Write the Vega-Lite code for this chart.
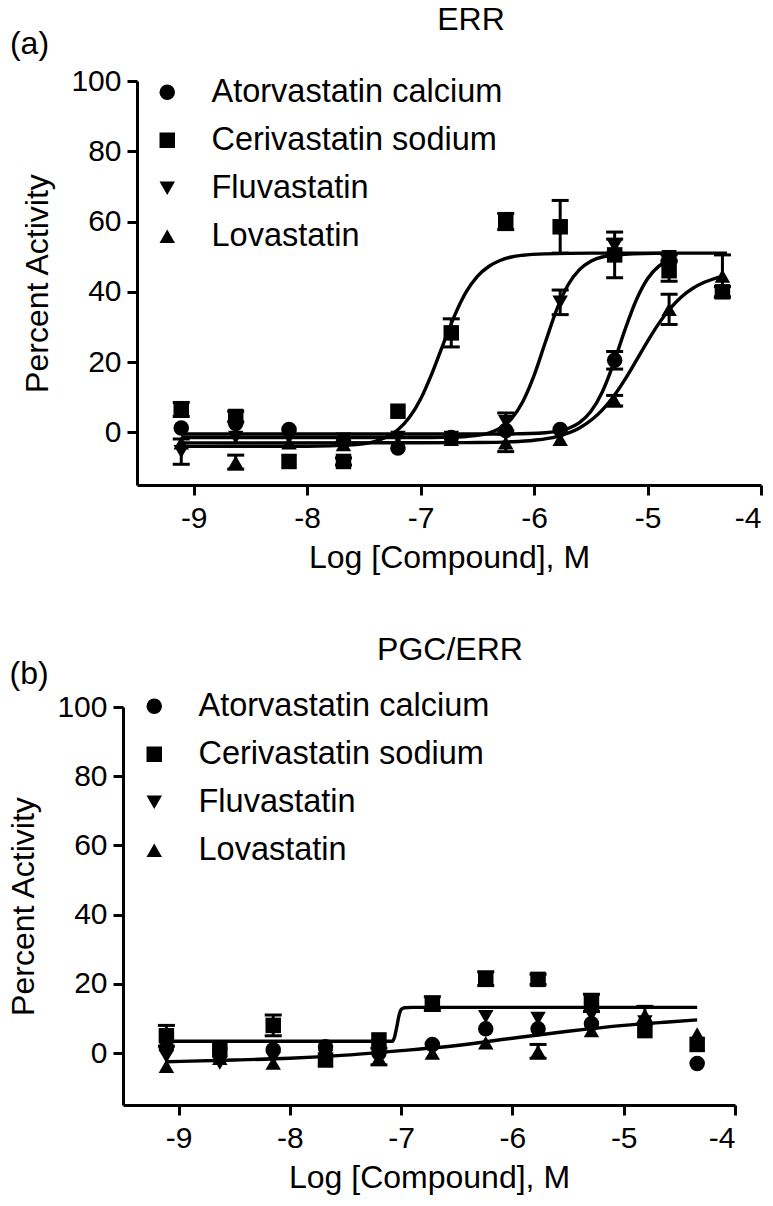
{
  "$schema": "https://vega.github.io/schema/vega-lite/v6.json",
  "padding": {"left": 7, "top": 4, "right": 5, "bottom": 5},
  "background": "white",
  "config": {
    "font": "Liberation Sans",
    "view": {"stroke": null},
    "axis": {
      "grid": false,
      "domainColor": "black",
      "domainWidth": 3,
      "tickColor": "black",
      "tickWidth": 3,
      "tickSize": 10,
      "labelFont": "Liberation Sans",
      "labelFontSize": 30,
      "labelColor": "black",
      "titleFont": "Liberation Sans",
      "titleFontSize": 32,
      "titleFontWeight": "normal",
      "titleColor": "black"
    },
    "axisX": {"labelPadding": 8, "titlePadding": 9},
    "axisY": {"labelPadding": 6, "titlePadding": 16},
    "title": {"font": "Liberation Sans", "fontSize": 32, "fontWeight": "normal", "color": "black", "anchor": "middle", "offset": -9},
    "legend": {
      "orient": "none",
      "title": null,
      "labelFont": "Liberation Sans",
      "labelFontSize": 32.5,
      "labelColor": "black",
      "labelLimit": 0,
      "symbolSize": 240,
      "symbolFillColor": "black",
      "symbolStrokeColor": "black",
      "symbolStrokeWidth": 0,
      "rowPadding": 15,
      "labelOffset": 28,
      "padding": 0
    }
  },
  "datasets": {
    "ptsA": [
      {"compound": "Atorvastatin calcium", "x": -9.11, "y": 1.2, "err": 0},
      {"compound": "Atorvastatin calcium", "x": -8.63, "y": 2.5, "err": 0},
      {"compound": "Atorvastatin calcium", "x": -8.16, "y": 0.8, "err": 0},
      {"compound": "Atorvastatin calcium", "x": -7.68, "y": -2.5, "err": 0},
      {"compound": "Atorvastatin calcium", "x": -7.2, "y": -4.5, "err": 0},
      {"compound": "Atorvastatin calcium", "x": -6.73, "y": -1.5, "err": 0},
      {"compound": "Atorvastatin calcium", "x": -6.25, "y": 0.5, "err": 0},
      {"compound": "Atorvastatin calcium", "x": -5.77, "y": 0.8, "err": 0},
      {"compound": "Atorvastatin calcium", "x": -5.29, "y": 20.5, "err": 2.5},
      {"compound": "Atorvastatin calcium", "x": -4.81, "y": 49.5, "err": 1},
      {"compound": "Cerivastatin sodium", "x": -9.11, "y": 6.5, "err": 2},
      {"compound": "Cerivastatin sodium", "x": -8.63, "y": 4.5, "err": 1.5},
      {"compound": "Cerivastatin sodium", "x": -8.16, "y": -8.3, "err": 0},
      {"compound": "Cerivastatin sodium", "x": -7.68, "y": -8.3, "err": 1},
      {"compound": "Cerivastatin sodium", "x": -7.2, "y": 6, "err": 0},
      {"compound": "Cerivastatin sodium", "x": -6.73, "y": 28.3, "err": 4},
      {"compound": "Cerivastatin sodium", "x": -6.25, "y": 60, "err": 2.3},
      {"compound": "Cerivastatin sodium", "x": -5.77, "y": 58.5, "err": 7.5},
      {"compound": "Cerivastatin sodium", "x": -5.29, "y": 50.5, "err": 6.5},
      {"compound": "Cerivastatin sodium", "x": -4.81, "y": 46, "err": 3},
      {"compound": "Cerivastatin sodium", "x": -4.34, "y": 40, "err": 1.5},
      {"compound": "Fluvastatin", "x": -9.11, "y": -5.5, "err": 3.6},
      {"compound": "Fluvastatin", "x": -8.63, "y": -1.5, "err": 0},
      {"compound": "Fluvastatin", "x": -8.16, "y": -1.5, "err": 0},
      {"compound": "Fluvastatin", "x": -7.68, "y": -2, "err": 0},
      {"compound": "Fluvastatin", "x": -7.2, "y": -1.5, "err": 0},
      {"compound": "Fluvastatin", "x": -6.73, "y": -1.5, "err": 0},
      {"compound": "Fluvastatin", "x": -6.25, "y": 3, "err": 2.5},
      {"compound": "Fluvastatin", "x": -5.77, "y": 37, "err": 3.5},
      {"compound": "Fluvastatin", "x": -5.29, "y": 53, "err": 2},
      {"compound": "Fluvastatin", "x": -4.81, "y": 50, "err": 0},
      {"compound": "Lovastatin", "x": -9.11, "y": -3, "err": 0},
      {"compound": "Lovastatin", "x": -8.63, "y": -8.5, "err": 2},
      {"compound": "Lovastatin", "x": -8.16, "y": -3, "err": 0},
      {"compound": "Lovastatin", "x": -7.68, "y": -3.5, "err": 0},
      {"compound": "Lovastatin", "x": -7.2, "y": -3, "err": 0},
      {"compound": "Lovastatin", "x": -6.73, "y": -2, "err": 0},
      {"compound": "Lovastatin", "x": -6.25, "y": -3, "err": 2.5},
      {"compound": "Lovastatin", "x": -5.77, "y": -2, "err": 0},
      {"compound": "Lovastatin", "x": -5.29, "y": 9, "err": 1.5},
      {"compound": "Lovastatin", "x": -4.81, "y": 35, "err": 4.3},
      {"compound": "Lovastatin", "x": -4.34, "y": 44.5, "err": 6}
    ],
    "curvesA": [
      {"compound": "Cerivastatin sodium", "x": -9.11, "y": -4.0},
      {"compound": "Cerivastatin sodium", "x": -8.0, "y": -3.96},
      {"compound": "Cerivastatin sodium", "x": -7.6, "y": -3.57},
      {"compound": "Cerivastatin sodium", "x": -7.4, "y": -2.55},
      {"compound": "Cerivastatin sodium", "x": -7.3, "y": -1.36},
      {"compound": "Cerivastatin sodium", "x": -7.2, "y": 0.74},
      {"compound": "Cerivastatin sodium", "x": -7.1, "y": 4.2},
      {"compound": "Cerivastatin sodium", "x": -7.0, "y": 9.5},
      {"compound": "Cerivastatin sodium", "x": -6.9, "y": 16.8},
      {"compound": "Cerivastatin sodium", "x": -6.8, "y": 25.2},
      {"compound": "Cerivastatin sodium", "x": -6.7, "y": 33.3},
      {"compound": "Cerivastatin sodium", "x": -6.6, "y": 39.9},
      {"compound": "Cerivastatin sodium", "x": -6.5, "y": 44.4},
      {"compound": "Cerivastatin sodium", "x": -6.4, "y": 47.2},
      {"compound": "Cerivastatin sodium", "x": -6.3, "y": 48.9},
      {"compound": "Cerivastatin sodium", "x": -6.2, "y": 49.9},
      {"compound": "Cerivastatin sodium", "x": -6.1, "y": 50.4},
      {"compound": "Cerivastatin sodium", "x": -5.9, "y": 50.8},
      {"compound": "Cerivastatin sodium", "x": -5.5, "y": 51.0},
      {"compound": "Cerivastatin sodium", "x": -4.3, "y": 51.0},
      {"compound": "Fluvastatin", "x": -9.11, "y": -1.5},
      {"compound": "Fluvastatin", "x": -7.0, "y": -1.5},
      {"compound": "Fluvastatin", "x": -6.8, "y": -1.43},
      {"compound": "Fluvastatin", "x": -6.6, "y": -1.2},
      {"compound": "Fluvastatin", "x": -6.5, "y": -0.88},
      {"compound": "Fluvastatin", "x": -6.4, "y": -0.2},
      {"compound": "Fluvastatin", "x": -6.3, "y": 1.18},
      {"compound": "Fluvastatin", "x": -6.2, "y": 3.85},
      {"compound": "Fluvastatin", "x": -6.1, "y": 8.7},
      {"compound": "Fluvastatin", "x": -6.0, "y": 16.2},
      {"compound": "Fluvastatin", "x": -5.9, "y": 25.7},
      {"compound": "Fluvastatin", "x": -5.8, "y": 35.0},
      {"compound": "Fluvastatin", "x": -5.7, "y": 42.0},
      {"compound": "Fluvastatin", "x": -5.6, "y": 46.3},
      {"compound": "Fluvastatin", "x": -5.5, "y": 48.7},
      {"compound": "Fluvastatin", "x": -5.4, "y": 49.9},
      {"compound": "Fluvastatin", "x": -5.2, "y": 50.7},
      {"compound": "Fluvastatin", "x": -4.81, "y": 51.0},
      {"compound": "Atorvastatin calcium", "x": -9.11, "y": -0.5},
      {"compound": "Atorvastatin calcium", "x": -6.5, "y": -0.5},
      {"compound": "Atorvastatin calcium", "x": -6.2, "y": -0.46},
      {"compound": "Atorvastatin calcium", "x": -5.9, "y": -0.14},
      {"compound": "Atorvastatin calcium", "x": -5.8, "y": 0.26},
      {"compound": "Atorvastatin calcium", "x": -5.7, "y": 1.08},
      {"compound": "Atorvastatin calcium", "x": -5.6, "y": 2.74},
      {"compound": "Atorvastatin calcium", "x": -5.5, "y": 5.91},
      {"compound": "Atorvastatin calcium", "x": -5.4, "y": 11.4},
      {"compound": "Atorvastatin calcium", "x": -5.3, "y": 19.55},
      {"compound": "Atorvastatin calcium", "x": -5.2, "y": 29.1},
      {"compound": "Atorvastatin calcium", "x": -5.1, "y": 37.6},
      {"compound": "Atorvastatin calcium", "x": -5.0, "y": 43.7},
      {"compound": "Atorvastatin calcium", "x": -4.9, "y": 47.3},
      {"compound": "Atorvastatin calcium", "x": -4.81, "y": 49.0},
      {"compound": "Lovastatin", "x": -9.11, "y": -3.0},
      {"compound": "Lovastatin", "x": -7.0, "y": -2.99},
      {"compound": "Lovastatin", "x": -6.5, "y": -2.92},
      {"compound": "Lovastatin", "x": -6.2, "y": -2.7},
      {"compound": "Lovastatin", "x": -6.0, "y": -2.26},
      {"compound": "Lovastatin", "x": -5.8, "y": -1.21},
      {"compound": "Lovastatin", "x": -5.6, "y": 1.22},
      {"compound": "Lovastatin", "x": -5.4, "y": 6.3},
      {"compound": "Lovastatin", "x": -5.3, "y": 10.2},
      {"compound": "Lovastatin", "x": -5.2, "y": 15.0},
      {"compound": "Lovastatin", "x": -5.1, "y": 20.4},
      {"compound": "Lovastatin", "x": -5.0, "y": 25.9},
      {"compound": "Lovastatin", "x": -4.9, "y": 31.0},
      {"compound": "Lovastatin", "x": -4.8, "y": 35.25},
      {"compound": "Lovastatin", "x": -4.7, "y": 38.6},
      {"compound": "Lovastatin", "x": -4.6, "y": 41.0},
      {"compound": "Lovastatin", "x": -4.5, "y": 42.7},
      {"compound": "Lovastatin", "x": -4.34, "y": 44.4}
    ],
    "ptsB": [
      {"compound": "Atorvastatin calcium", "x": -9.11, "y": 1.5, "err": 0},
      {"compound": "Atorvastatin calcium", "x": -8.63, "y": 1.4, "err": 0},
      {"compound": "Atorvastatin calcium", "x": -8.15, "y": 1, "err": 0},
      {"compound": "Atorvastatin calcium", "x": -7.68, "y": 1.8, "err": 0},
      {"compound": "Atorvastatin calcium", "x": -7.2, "y": 0, "err": 0},
      {"compound": "Atorvastatin calcium", "x": -6.72, "y": 2.5, "err": 0},
      {"compound": "Atorvastatin calcium", "x": -6.24, "y": 7, "err": 0},
      {"compound": "Atorvastatin calcium", "x": -5.77, "y": 7, "err": 0},
      {"compound": "Atorvastatin calcium", "x": -5.29, "y": 8.5, "err": 0},
      {"compound": "Atorvastatin calcium", "x": -4.81, "y": 8.5, "err": 0},
      {"compound": "Atorvastatin calcium", "x": -4.34, "y": -3, "err": 0},
      {"compound": "Cerivastatin sodium", "x": -9.11, "y": 5, "err": 3},
      {"compound": "Cerivastatin sodium", "x": -8.63, "y": 1, "err": 0},
      {"compound": "Cerivastatin sodium", "x": -8.15, "y": 8, "err": 3},
      {"compound": "Cerivastatin sodium", "x": -7.68, "y": -2, "err": 0},
      {"compound": "Cerivastatin sodium", "x": -7.2, "y": 3.8, "err": 0},
      {"compound": "Cerivastatin sodium", "x": -6.72, "y": 14.3, "err": 2},
      {"compound": "Cerivastatin sodium", "x": -6.24, "y": 21.5, "err": 2},
      {"compound": "Cerivastatin sodium", "x": -5.77, "y": 21.3, "err": 1.5},
      {"compound": "Cerivastatin sodium", "x": -5.29, "y": 14.5, "err": 2.5},
      {"compound": "Cerivastatin sodium", "x": -4.81, "y": 6.5, "err": 0},
      {"compound": "Cerivastatin sodium", "x": -4.34, "y": 2.5, "err": 0},
      {"compound": "Fluvastatin", "x": -9.11, "y": -1, "err": 0},
      {"compound": "Fluvastatin", "x": -8.63, "y": -2.9, "err": 0},
      {"compound": "Fluvastatin", "x": -8.15, "y": -1.5, "err": 0},
      {"compound": "Fluvastatin", "x": -7.68, "y": -1, "err": 0},
      {"compound": "Fluvastatin", "x": -7.2, "y": -1, "err": 2.4},
      {"compound": "Fluvastatin", "x": -6.72, "y": 1, "err": 0},
      {"compound": "Fluvastatin", "x": -6.24, "y": 10.5, "err": 0},
      {"compound": "Fluvastatin", "x": -5.77, "y": 10, "err": 0},
      {"compound": "Fluvastatin", "x": -5.29, "y": 11, "err": 0},
      {"compound": "Fluvastatin", "x": -4.81, "y": 9, "err": 0},
      {"compound": "Lovastatin", "x": -9.11, "y": -3.8, "err": 0},
      {"compound": "Lovastatin", "x": -8.63, "y": -1.5, "err": 0},
      {"compound": "Lovastatin", "x": -8.15, "y": -2.9, "err": 0},
      {"compound": "Lovastatin", "x": -7.68, "y": -2, "err": 0},
      {"compound": "Lovastatin", "x": -7.2, "y": -1.5, "err": 0},
      {"compound": "Lovastatin", "x": -6.72, "y": 0, "err": 0},
      {"compound": "Lovastatin", "x": -6.24, "y": 3, "err": 0},
      {"compound": "Lovastatin", "x": -5.77, "y": 0.5, "err": 2},
      {"compound": "Lovastatin", "x": -5.29, "y": 6.5, "err": 0},
      {"compound": "Lovastatin", "x": -4.81, "y": 11, "err": 2.5},
      {"compound": "Lovastatin", "x": -4.34, "y": 5.5, "err": 0}
    ],
    "curvesB": [
      {"compound": "Cerivastatin sodium", "x": -9.11, "y": 3.4},
      {"compound": "Cerivastatin sodium", "x": -7.08, "y": 3.4},
      {"compound": "Cerivastatin sodium", "x": -7.06, "y": 4.6},
      {"compound": "Cerivastatin sodium", "x": -7.04, "y": 7.5},
      {"compound": "Cerivastatin sodium", "x": -7.02, "y": 10.8},
      {"compound": "Cerivastatin sodium", "x": -7.0, "y": 12.6},
      {"compound": "Cerivastatin sodium", "x": -6.97, "y": 13.1},
      {"compound": "Cerivastatin sodium", "x": -6.9, "y": 13.2},
      {"compound": "Cerivastatin sodium", "x": -4.34, "y": 13.2},
      {"compound": "Atorvastatin calcium", "x": -9.11, "y": -2.5},
      {"compound": "Atorvastatin calcium", "x": -8.5, "y": -2.0},
      {"compound": "Atorvastatin calcium", "x": -8.0, "y": -1.5},
      {"compound": "Atorvastatin calcium", "x": -7.5, "y": -0.6},
      {"compound": "Atorvastatin calcium", "x": -7.0, "y": 0.7},
      {"compound": "Atorvastatin calcium", "x": -6.5, "y": 2.2},
      {"compound": "Atorvastatin calcium", "x": -6.0, "y": 4.3},
      {"compound": "Atorvastatin calcium", "x": -5.5, "y": 6.3},
      {"compound": "Atorvastatin calcium", "x": -5.0, "y": 8.0},
      {"compound": "Atorvastatin calcium", "x": -4.6, "y": 9.0},
      {"compound": "Atorvastatin calcium", "x": -4.34, "y": 9.6}
    ]
  },
  "concat": [
    {
      "width": 624,
      "height": 404,
      "title": {"text": "ERR", "dx": 22},
      "layer": [
        {
          "data": {"name": "curvesA"},
          "mark": {"type": "line", "color": "black", "strokeWidth": 3.4, "interpolate": "monotone"},
          "encoding": {
            "x": {"field": "x", "type": "quantitative", "title": "Log [Compound], M", "scale": {"domain": [-9.5, -4], "nice": false, "zero": false},
                  "axis": {"values": [-9, -8, -7, -6, -5, -4], "labelExpr": "datum.value + ''"}},
            "y": {"field": "y", "type": "quantitative", "title": "Percent Activity", "scale": {"domain": [-15, 100], "nice": false, "zero": false},
                  "axis": {"values": [0, 20, 40, 60, 80, 100]}},
            "detail": {"field": "compound"}
          }
        },
        {
          "data": {"name": "ptsA"},
          "transform": [{"filter": "datum.err > 0"}],
          "mark": {"type": "errorbar", "ticks": {"color": "black", "opacity": 1, "thickness": 3}, "rule": {"color": "black", "opacity": 1, "strokeWidth": 3}, "size": 17, "thickness": 3, "color": "black"},
          "encoding": {
            "x": {"field": "x", "type": "quantitative", "title": "Log [Compound], M"},
            "y": {"field": "y", "type": "quantitative", "title": "Percent Activity"},
            "yError": {"field": "err"}
          }
        },
        {
          "data": {"name": "ptsA"},
          "mark": {"type": "point", "filled": true, "size": 240, "opacity": 1, "color": "black", "strokeWidth": 0},
          "encoding": {
            "x": {"field": "x", "type": "quantitative", "title": "Log [Compound], M"},
            "y": {"field": "y", "type": "quantitative", "title": "Percent Activity"},
            "shape": {"field": "compound", "type": "nominal",
                      "scale": {"domain": ["Atorvastatin calcium", "Cerivastatin sodium", "Fluvastatin", "Lovastatin"], "range": ["circle", "square", "triangle-down", "triangle-up"]},
                      "legend": {"orient": "none", "legendX": 14, "legendY": -5}}
          }
        },
        {
          "data": {"values": [{"label": "(a)", "x": -10.62, "y": 110.5}]},
          "mark": {"type": "text", "align": "left", "baseline": "middle", "fontSize": 32, "font": "Liberation Sans", "color": "black"},
          "encoding": {
            "x": {"field": "x", "type": "quantitative", "title": "Log [Compound], M"},
            "y": {"field": "y", "type": "quantitative", "title": "Percent Activity"},
            "text": {"field": "label"}
          }
        }
      ]
    },
    {
      "width": 612,
      "height": 398,
      "title": {"text": "PGC/ERR", "dx": 7},
      "layer": [
        {
          "data": {"name": "curvesB"},
          "mark": {"type": "line", "color": "black", "strokeWidth": 3.4, "interpolate": "monotone"},
          "encoding": {
            "x": {"field": "x", "type": "quantitative", "title": "Log [Compound], M", "scale": {"domain": [-9.5, -4], "nice": false, "zero": false, "range": [-14, 598]},
                  "axis": {"values": [-9, -8, -7, -6, -5, -4], "labelExpr": "datum.value + ''"}},
            "y": {"field": "y", "type": "quantitative", "title": "Percent Activity", "scale": {"domain": [-15, 100], "nice": false, "zero": false},
                  "axis": {"values": [0, 20, 40, 60, 80, 100], "offset": 14}},
            "detail": {"field": "compound"}
          }
        },
        {
          "data": {"name": "ptsB"},
          "transform": [{"filter": "datum.err > 0"}],
          "mark": {"type": "errorbar", "ticks": {"color": "black", "opacity": 1, "thickness": 3}, "rule": {"color": "black", "opacity": 1, "strokeWidth": 3}, "size": 17, "thickness": 3, "color": "black"},
          "encoding": {
            "x": {"field": "x", "type": "quantitative", "title": "Log [Compound], M"},
            "y": {"field": "y", "type": "quantitative", "title": "Percent Activity"},
            "yError": {"field": "err"}
          }
        },
        {
          "data": {"name": "ptsB"},
          "mark": {"type": "point", "filled": true, "size": 240, "opacity": 1, "color": "black", "strokeWidth": 0},
          "encoding": {
            "x": {"field": "x", "type": "quantitative", "title": "Log [Compound], M"},
            "y": {"field": "y", "type": "quantitative", "title": "Percent Activity"},
            "shape": {"field": "compound", "type": "nominal",
                      "scale": {"domain": ["Atorvastatin calcium", "Cerivastatin sodium", "Fluvastatin", "Lovastatin"], "range": ["circle", "square", "triangle-down", "triangle-up"]},
                      "legend": {"orient": "none", "legendX": 1, "legendY": -17}}
          }
        },
        {
          "data": {"values": [{"label": "(b)", "x": -10.52, "y": 109.4}]},
          "mark": {"type": "text", "align": "left", "baseline": "middle", "fontSize": 32, "font": "Liberation Sans", "color": "black"},
          "encoding": {
            "x": {"field": "x", "type": "quantitative", "title": "Log [Compound], M"},
            "y": {"field": "y", "type": "quantitative", "title": "Percent Activity"},
            "text": {"field": "label"}
          }
        }
      ]
    }
  ],
  "columns": 1,
  "spacing": 61,
  "resolve": {
    "scale": {"shape": "independent", "x": "independent", "y": "independent"},
    "legend": {"shape": "independent"}
  }
}
